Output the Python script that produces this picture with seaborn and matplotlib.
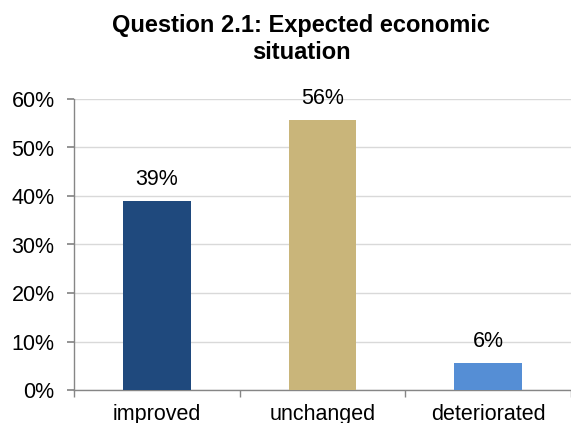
import matplotlib
matplotlib.use("Agg")
import matplotlib.pyplot as plt
import seaborn as sns
import pandas as pd

categories = ["improved", "unchanged", "deteriorated"]
values = [0.389, 0.557, 0.056]
labels = ["39%", "56%", "6%"]
colors = ["#1F497D", "#C9B57A", "#558ED5"]
yticks = [0, 0.1, 0.2, 0.3, 0.4, 0.5, 0.6]
title = "Question 2.1: Expected economic\nsituation"

sns.set_theme(style="white")
plt.rcParams['font.family'] = ['Liberation Sans', 'DejaVu Sans']
plt.rcParams['text.color'] = 'black'
plt.rcParams['xtick.color'] = 'black'
plt.rcParams['ytick.color'] = 'black'

df = pd.DataFrame({"cat": categories, "val": values})

fig = plt.figure(figsize=(5.71, 4.23), dpi=100)
ax = fig.add_axes([74/571, 1-390/423, 1-74/571, (390-99)/423])

sns.barplot(data=df, x="cat", y="val", hue="cat", palette=colors, legend=False,
            width=0.41, ax=ax, saturation=1, linewidth=0, zorder=3)

ax.set_xlim(-0.5, 2.5)
ax.set_ylim(0, 0.6)
ax.set_yticks(yticks)
ax.set_yticklabels([f"{int(round(t*100))}%" for t in yticks], fontsize=15.5)
ax.yaxis.grid(True, color="#D9D9D9", linewidth=1, zorder=0)
ax.set_axisbelow(True)
ax.set_xlabel("")
ax.set_ylabel("")

for s in ["top", "right"]:
    ax.spines[s].set_visible(False)
for s in ["left", "bottom"]:
    ax.spines[s].set_color("#868686")
    ax.spines[s].set_linewidth(1)

ax.tick_params(axis="y", which="major", length=5, color="#868686", labelcolor="black",
               direction="out", pad=9, left=True)
ax.set_xticks(range(len(categories)))
ax.set_xticklabels(categories, fontsize=15.5)
ax.tick_params(axis="x", which="major", length=0, pad=10, labelcolor="black")
ax.set_xticks([-0.5, 0.5, 1.5, 2.5], minor=True)
ax.tick_params(axis="x", which="minor", length=5, color="#868686", direction="out", bottom=True)

for i, (v, lab) in enumerate(zip(values, labels)):
    ax.annotate(lab, (i, v), xytext=(0, 8), textcoords="offset points",
                ha="center", va="bottom", fontsize=15.5, color="black")

fig.text(301/571, 1-39/423, title, ha="center", va="center", fontsize=17,
         fontweight="bold", linespacing=1.25, color="black")

fig.savefig("out.png", dpi=100)
